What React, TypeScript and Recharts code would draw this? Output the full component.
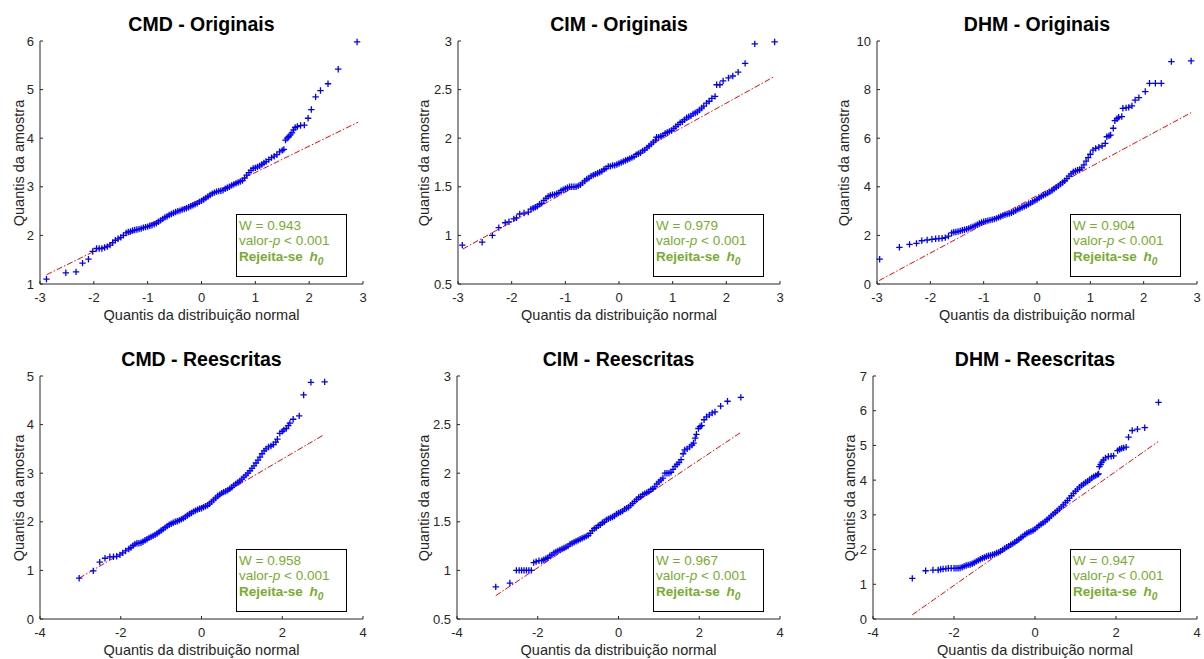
import React from 'react';
import { ScatterChart, Scatter, XAxis, YAxis } from 'recharts';

type Pt = [number, number];

const FONT = '"Liberation Sans", Arial, Helvetica, sans-serif';
const AXIS = '#262626';
const GREEN = '#77ac30';

// sample quantiles vs normal quantiles
const cmdOriginais: Pt[] = [
  [-2.88, 1.1], [-2.52, 1.23], [-2.33, 1.25], [-2.21, 1.43], [-2.1, 1.51], [-2.02, 1.67],
  [-1.95, 1.73], [-1.9, 1.73], [-1.85, 1.73], [-1.8, 1.75], [-1.75, 1.77], [-1.7, 1.8], [-1.65, 1.85],
  [-1.6, 1.9], [-1.55, 1.93], [-1.5, 1.96], [-1.45, 2.0],
  [-1.4, 2.05], [-1.36, 2.07], [-1.32, 2.08], [-1.28, 2.1], [-1.24, 2.11], [-1.2, 2.12], [-1.16, 2.13],
  [-1.12, 2.14], [-1.08, 2.16], [-1.04, 2.17], [-1.0, 2.18], [-0.96, 2.2], [-0.92, 2.21], [-0.88, 2.23],
  [-0.84, 2.25], [-0.8, 2.28], [-0.76, 2.31], [-0.72, 2.34], [-0.68, 2.37], [-0.64, 2.39], [-0.6, 2.42],
  [-0.56, 2.44], [-0.52, 2.46], [-0.48, 2.48], [-0.44, 2.5], [-0.4, 2.51], [-0.36, 2.53], [-0.32, 2.54],
  [-0.28, 2.56], [-0.24, 2.58], [-0.2, 2.6], [-0.16, 2.62], [-0.12, 2.64], [-0.08, 2.66], [-0.04, 2.69],
  [0.0, 2.71], [0.04, 2.74], [0.08, 2.77], [0.12, 2.8], [0.16, 2.83], [0.2, 2.86], [0.24, 2.88],
  [0.28, 2.9], [0.32, 2.91], [0.36, 2.92], [0.4, 2.93], [0.44, 2.96], [0.48, 2.98], [0.52, 3.0],
  [0.56, 3.03], [0.6, 3.05], [0.64, 3.07], [0.68, 3.09], [0.72, 3.11], [0.76, 3.13], [0.8, 3.18],
  [0.84, 3.24], [0.88, 3.29], [0.92, 3.34], [0.96, 3.38], [1.0, 3.39], [1.04, 3.41], [1.08, 3.43],
  [1.12, 3.46], [1.16, 3.49], [1.2, 3.52], [1.25, 3.56], [1.3, 3.6], [1.35, 3.63], [1.4, 3.66],
  [1.45, 3.72], [1.5, 3.75], [1.53, 3.77],
  [1.56, 3.96], [1.59, 4.0], [1.62, 4.03], [1.65, 4.07], [1.68, 4.11], [1.71, 4.17], [1.74, 4.22],
  [1.78, 4.24], [1.84, 4.26], [1.91, 4.27], [1.98, 4.41], [2.04, 4.59], [2.12, 4.85], [2.21, 4.98],
  [2.35, 5.12], [2.54, 5.42], [2.89, 5.98],
];

const cimOriginais: Pt[] = [
  [-2.92, 0.9], [-2.55, 0.93], [-2.36, 1.0], [-2.24, 1.08], [-2.12, 1.13], [-2.05, 1.14], [-1.96, 1.17],
  [-1.91, 1.18], [-1.85, 1.22], [-1.77, 1.23], [-1.69, 1.24], [-1.64, 1.27],
  [-1.6, 1.28], [-1.56, 1.29], [-1.52, 1.3], [-1.48, 1.32], [-1.44, 1.33], [-1.4, 1.36], [-1.36, 1.38],
  [-1.32, 1.4], [-1.28, 1.41], [-1.24, 1.42], [-1.2, 1.42], [-1.16, 1.43], [-1.12, 1.44], [-1.08, 1.46],
  [-1.04, 1.47], [-1.0, 1.48], [-0.96, 1.49], [-0.92, 1.5], [-0.88, 1.5], [-0.84, 1.5], [-0.8, 1.5],
  [-0.76, 1.51], [-0.72, 1.52], [-0.68, 1.54], [-0.64, 1.56], [-0.6, 1.58], [-0.56, 1.59], [-0.52, 1.61],
  [-0.48, 1.62], [-0.44, 1.63], [-0.4, 1.64], [-0.36, 1.65], [-0.32, 1.66], [-0.28, 1.68], [-0.24, 1.69],
  [-0.2, 1.71], [-0.16, 1.71], [-0.12, 1.72], [-0.08, 1.72], [-0.04, 1.73], [0.0, 1.74], [0.04, 1.75],
  [0.08, 1.76], [0.12, 1.77], [0.16, 1.78], [0.2, 1.79], [0.24, 1.8], [0.28, 1.81], [0.32, 1.83],
  [0.36, 1.84], [0.4, 1.85], [0.44, 1.87], [0.48, 1.88], [0.52, 1.9], [0.56, 1.92], [0.6, 1.94],
  [0.64, 1.96], [0.68, 1.98], [0.7, 2.01], [0.74, 2.01], [0.78, 2.02], [0.82, 2.03], [0.86, 2.05],
  [0.9, 2.06], [0.94, 2.07], [0.98, 2.08], [1.02, 2.1], [1.06, 2.12], [1.1, 2.14], [1.14, 2.16],
  [1.18, 2.17], [1.22, 2.19], [1.26, 2.21], [1.3, 2.22], [1.34, 2.23], [1.38, 2.25], [1.42, 2.26],
  [1.46, 2.27], [1.5, 2.29], [1.54, 2.31], [1.58, 2.33],
  [1.63, 2.36], [1.68, 2.38], [1.73, 2.41], [1.79, 2.43], [1.82, 2.55], [1.88, 2.55], [1.94, 2.59],
  [2.04, 2.62], [2.12, 2.64], [2.22, 2.68], [2.35, 2.77], [2.53, 2.97], [2.9, 2.99],
];

const dhmOriginais: Pt[] = [
  [-2.95, 1.02], [-2.58, 1.51], [-2.39, 1.63], [-2.26, 1.67], [-2.16, 1.78], [-2.06, 1.81], [-1.97, 1.84],
  [-1.9, 1.86], [-1.84, 1.87], [-1.78, 1.88], [-1.72, 1.91], [-1.66, 1.97],
  [-1.6, 2.1], [-1.56, 2.13], [-1.52, 2.14], [-1.48, 2.16], [-1.44, 2.18], [-1.4, 2.21], [-1.36, 2.23],
  [-1.32, 2.26], [-1.28, 2.29], [-1.24, 2.33], [-1.2, 2.36], [-1.16, 2.4], [-1.12, 2.44], [-1.08, 2.49],
  [-1.04, 2.53], [-1.0, 2.56], [-0.96, 2.58], [-0.92, 2.61], [-0.88, 2.63], [-0.84, 2.65], [-0.8, 2.67],
  [-0.76, 2.7], [-0.72, 2.74], [-0.68, 2.78], [-0.64, 2.82], [-0.6, 2.85], [-0.56, 2.88], [-0.52, 2.9],
  [-0.48, 2.93], [-0.44, 2.97], [-0.4, 3.02], [-0.36, 3.07], [-0.32, 3.11], [-0.28, 3.15], [-0.24, 3.19],
  [-0.2, 3.23], [-0.16, 3.28], [-0.12, 3.33], [-0.08, 3.38], [-0.04, 3.43], [0.0, 3.48], [0.04, 3.54],
  [0.08, 3.6], [0.12, 3.65], [0.16, 3.69], [0.2, 3.74], [0.24, 3.79], [0.28, 3.85], [0.32, 3.91],
  [0.36, 3.98], [0.4, 4.04], [0.44, 4.11], [0.48, 4.18], [0.52, 4.25], [0.56, 4.34], [0.6, 4.44],
  [0.64, 4.53], [0.68, 4.61], [0.72, 4.65], [0.76, 4.68], [0.8, 4.71], [0.84, 4.78], [0.88, 4.9],
  [0.92, 5.06], [0.96, 5.2], [1.0, 5.34],
  [1.05, 5.51], [1.1, 5.58], [1.16, 5.63], [1.22, 5.68], [1.28, 5.79], [1.31, 6.06], [1.35, 6.1],
  [1.38, 6.13], [1.43, 6.41], [1.46, 6.72], [1.5, 6.8], [1.53, 6.86], [1.59, 6.89], [1.61, 7.23],
  [1.67, 7.25], [1.72, 7.27], [1.78, 7.33], [1.84, 7.57], [1.91, 7.67], [2.03, 7.92], [2.11, 8.26],
  [2.22, 8.26], [2.33, 8.26], [2.52, 9.15], [2.89, 9.18],
];

const cmdReescritas: Pt[] = [
  [-3.03, 0.84], [-2.68, 0.99], [-2.52, 1.17], [-2.39, 1.25], [-2.27, 1.28], [-2.18, 1.28], [-2.1, 1.29],
  [-2.02, 1.32], [-1.95, 1.36], [-1.88, 1.4],
  [-1.8, 1.44], [-1.75, 1.47], [-1.7, 1.51], [-1.65, 1.54], [-1.6, 1.56], [-1.55, 1.56], [-1.5, 1.57],
  [-1.45, 1.59], [-1.4, 1.62], [-1.35, 1.64], [-1.3, 1.67], [-1.25, 1.69], [-1.2, 1.71], [-1.15, 1.73],
  [-1.1, 1.76], [-1.05, 1.79], [-1.0, 1.82], [-0.95, 1.85], [-0.9, 1.88], [-0.85, 1.91], [-0.8, 1.94],
  [-0.75, 1.96], [-0.7, 1.98], [-0.65, 2.0], [-0.6, 2.01], [-0.55, 2.03], [-0.5, 2.05], [-0.45, 2.07],
  [-0.4, 2.1], [-0.35, 2.13], [-0.3, 2.16], [-0.25, 2.18], [-0.2, 2.21], [-0.15, 2.23], [-0.1, 2.25],
  [-0.05, 2.27], [0.0, 2.28], [0.05, 2.3], [0.1, 2.32], [0.15, 2.34], [0.2, 2.37], [0.25, 2.41],
  [0.3, 2.45], [0.35, 2.49], [0.4, 2.53], [0.45, 2.56], [0.5, 2.59], [0.55, 2.61], [0.6, 2.63],
  [0.65, 2.65], [0.7, 2.68], [0.75, 2.71], [0.8, 2.75], [0.85, 2.78], [0.9, 2.81], [0.95, 2.84],
  [1.0, 2.88], [1.05, 2.92], [1.1, 2.96], [1.15, 3.0], [1.2, 3.05], [1.25, 3.1], [1.3, 3.15],
  [1.35, 3.21], [1.4, 3.27], [1.45, 3.33], [1.5, 3.4], [1.55, 3.46], [1.6, 3.5],
  [1.66, 3.54], [1.72, 3.56], [1.78, 3.59], [1.84, 3.64], [1.88, 3.7], [1.94, 3.82], [2.0, 3.86],
  [2.04, 3.89], [2.1, 3.92], [2.15, 3.98], [2.19, 4.03], [2.27, 4.11], [2.42, 4.18], [2.53, 4.61],
  [2.71, 4.87], [3.05, 4.88],
];

const cimReescritas: Pt[] = [
  [-3.04, 0.83], [-2.69, 0.87], [-2.53, 1.0], [-2.46, 1.0], [-2.4, 1.0], [-2.34, 1.0], [-2.28, 1.0],
  [-2.22, 1.0], [-2.16, 1.0], [-2.1, 1.08], [-2.04, 1.09], [-1.97, 1.1],
  [-1.9, 1.1], [-1.85, 1.11], [-1.8, 1.12], [-1.75, 1.13], [-1.7, 1.15], [-1.65, 1.16], [-1.6, 1.18],
  [-1.55, 1.19], [-1.5, 1.2], [-1.45, 1.21], [-1.4, 1.22], [-1.35, 1.23], [-1.3, 1.24], [-1.25, 1.25],
  [-1.2, 1.27], [-1.15, 1.28], [-1.1, 1.29], [-1.05, 1.3], [-1.0, 1.31], [-0.95, 1.32], [-0.9, 1.33],
  [-0.85, 1.34], [-0.8, 1.35], [-0.75, 1.36], [-0.7, 1.38], [-0.65, 1.41], [-0.6, 1.43], [-0.55, 1.44],
  [-0.5, 1.46], [-0.45, 1.47], [-0.4, 1.49], [-0.35, 1.5], [-0.3, 1.52], [-0.25, 1.53], [-0.2, 1.54],
  [-0.15, 1.55], [-0.1, 1.56], [-0.05, 1.58], [0.0, 1.59], [0.05, 1.6], [0.1, 1.61], [0.15, 1.63],
  [0.2, 1.64], [0.25, 1.65], [0.3, 1.67], [0.35, 1.69], [0.4, 1.71], [0.45, 1.73], [0.5, 1.75],
  [0.55, 1.76], [0.6, 1.78], [0.65, 1.79], [0.7, 1.8], [0.75, 1.81], [0.8, 1.83], [0.85, 1.84],
  [0.9, 1.86], [0.95, 1.89], [1.0, 1.91], [1.05, 1.93], [1.1, 1.95], [1.15, 2.0], [1.2, 2.0],
  [1.25, 2.0], [1.3, 2.01], [1.35, 2.04], [1.4, 2.07], [1.45, 2.09], [1.5, 2.11], [1.55, 2.14],
  [1.6, 2.2], [1.64, 2.24], [1.7, 2.25], [1.76, 2.27], [1.82, 2.29], [1.86, 2.31], [1.9, 2.36],
  [1.93, 2.4], [1.98, 2.46], [2.02, 2.48], [2.06, 2.49], [2.12, 2.55], [2.18, 2.58], [2.25, 2.6],
  [2.32, 2.62], [2.39, 2.63], [2.53, 2.69], [2.7, 2.74], [3.03, 2.78],
];

const dhmReescritas: Pt[] = [
  [-3.03, 1.17], [-2.7, 1.39], [-2.52, 1.41], [-2.39, 1.41], [-2.33, 1.43], [-2.27, 1.44], [-2.2, 1.45],
  [-2.14, 1.46], [-2.07, 1.46],
  [-2.0, 1.46], [-1.95, 1.46], [-1.9, 1.46], [-1.85, 1.47], [-1.8, 1.49], [-1.75, 1.52], [-1.7, 1.54],
  [-1.65, 1.56], [-1.6, 1.57], [-1.55, 1.59], [-1.5, 1.62], [-1.45, 1.66], [-1.4, 1.69], [-1.35, 1.72],
  [-1.3, 1.75], [-1.25, 1.77], [-1.2, 1.8], [-1.15, 1.82], [-1.1, 1.83], [-1.05, 1.85], [-1.0, 1.87],
  [-0.95, 1.9], [-0.9, 1.92], [-0.85, 1.95], [-0.8, 1.99], [-0.75, 2.03], [-0.7, 2.07], [-0.65, 2.1],
  [-0.6, 2.14], [-0.55, 2.17], [-0.5, 2.21], [-0.45, 2.25], [-0.4, 2.29], [-0.35, 2.34], [-0.3, 2.38],
  [-0.25, 2.43], [-0.2, 2.47], [-0.15, 2.5], [-0.1, 2.52], [-0.05, 2.55], [0.0, 2.59], [0.05, 2.64],
  [0.1, 2.69], [0.15, 2.73], [0.2, 2.77], [0.25, 2.81], [0.3, 2.86], [0.35, 2.91], [0.4, 2.97],
  [0.45, 3.02], [0.5, 3.07], [0.55, 3.12], [0.6, 3.17], [0.65, 3.23], [0.7, 3.29], [0.75, 3.35],
  [0.8, 3.41], [0.85, 3.48], [0.9, 3.55], [0.95, 3.62], [1.0, 3.68], [1.05, 3.74], [1.1, 3.8],
  [1.15, 3.85], [1.2, 3.89], [1.25, 3.93], [1.3, 3.97], [1.35, 4.01], [1.4, 4.06], [1.45, 4.1],
  [1.5, 4.13], [1.55, 4.16],
  [1.57, 4.18], [1.59, 4.39], [1.62, 4.45], [1.65, 4.52], [1.69, 4.58], [1.74, 4.64], [1.81, 4.68],
  [1.88, 4.69], [1.94, 4.7], [2.04, 4.85], [2.09, 4.89], [2.14, 4.92], [2.19, 4.93], [2.25, 4.95],
  [2.31, 5.24], [2.4, 5.43], [2.53, 5.47], [2.71, 5.51], [3.05, 6.24],
];

// reference lines (end points)
const cmdOriginaisLine: Pt[] = [[-2.88, 1.19], [2.91, 4.33]];
const cimOriginaisLine: Pt[] = [[-2.91, 0.86], [2.88, 2.63]];
const dhmOriginaisLine: Pt[] = [[-2.96, 0.14], [2.89, 7.05]];
const cmdReescritasLine: Pt[] = [[-3.03, 0.84], [3.03, 3.79]];
const cimReescritasLine: Pt[] = [[-3.04, 0.74], [3.03, 2.42]];
const dhmReescritasLine: Pt[] = [[-3.03, 0.12], [3.04, 5.11]];

const titles = ['CMD - Originais', 'CIM - Originais', 'DHM - Originais', 'CMD - Reescritas', 'CIM - Reescritas', 'DHM - Reescritas'];
const wValues = ['0.943', '0.979', '0.904', '0.958', '0.967', '0.947'];

const xTicksOrig = [-3, -2, -1, 0, 1, 2, 3];
const xTicksRees = [-4, -2, 0, 2, 4];
const yTicksCmdOrig = [1, 2, 3, 4, 5, 6];
const yTicksCimOrig = [0.5, 1, 1.5, 2, 2.5, 3];
const yTicksDhmOrig = [0, 2, 4, 6, 8, 10];
const yTicksCmdRees = [0, 1, 2, 3, 4, 5];
const yTicksCimRees = [0.5, 1, 1.5, 2, 2.5, 3];
const yTicksDhmRees = [0, 1, 2, 3, 4, 5, 6, 7];

const panels = [
  { title: titles[0], pts: cmdOriginais, ref: cmdOriginaisLine, w: wValues[0], xTicks: xTicksOrig, yTicks: yTicksCmdOrig, l: 40, t: 41, r: 363, b: 284, yLabelX: 19 },
  { title: titles[1], pts: cimOriginais, ref: cimOriginaisLine, w: wValues[1], xTicks: xTicksOrig, yTicks: yTicksCimOrig, l: 458, t: 41, r: 780, b: 284, yLabelX: 423.5 },
  { title: titles[2], pts: dhmOriginais, ref: dhmOriginaisLine, w: wValues[2], xTicks: xTicksOrig, yTicks: yTicksDhmOrig, l: 877, t: 41, r: 1197, b: 284, yLabelX: 843.5 },
  { title: titles[3], pts: cmdReescritas, ref: cmdReescritasLine, w: wValues[3], xTicks: xTicksRees, yTicks: yTicksCmdRees, l: 40, t: 376, r: 363, b: 619, yLabelX: 19 },
  { title: titles[4], pts: cimReescritas, ref: cimReescritasLine, w: wValues[4], xTicks: xTicksRees, yTicks: yTicksCimRees, l: 457, t: 376, r: 780, b: 619, yLabelX: 423.5 },
  { title: titles[5], pts: dhmReescritas, ref: dhmReescritasLine, w: wValues[5], xTicks: xTicksRees, yTicks: yTicksDhmRees, l: 873, t: 376, r: 1197, b: 619, yLabelX: 850 },
];

const Plus = (props: any) => {
  const { cx, cy } = props;
  if (cx == null || cy == null) return <g />;
  return (
    <path
      d={`M${cx - 3.2},${cy}H${cx + 3.2}M${cx},${cy - 3.2}V${cy + 3.2}`}
      stroke="#0000ff"
      strokeWidth={1.3}
      fill="none"
    />
  );
};

const NoDot = () => <g />;

const tickStyle = { fill: AXIS, fontSize: 13, fontFamily: FONT };

function QQPanel(p: (typeof panels)[number]) {
  const padL = 45;
  const padT = 10;
  const padR = 8;
  const padB = 25;
  const width = p.r - p.l + padL + padR;
  const height = p.b - p.t + padT + padB;
  const pts = p.pts.map(([x, y]) => ({ x, y }));
  const ref = p.ref.map(([x, y]) => ({ x, y }));
  const xDom = [p.xTicks[0], p.xTicks[p.xTicks.length - 1]];
  const yDom = [p.yTicks[0], p.yTicks[p.yTicks.length - 1]];

  return (
    <>
      <div style={{ position: 'absolute', left: p.l - padL, top: p.t - padT }}>
        <ScatterChart width={width} height={height} margin={{ top: padT, right: padR, left: 0, bottom: 0 }}>
          <XAxis
            type="number"
            dataKey="x"
            domain={xDom}
            ticks={p.xTicks}
            interval={0}
            height={padB}
            tickSize={-3}
            tickMargin={12}
            tick={tickStyle}
            axisLine={{ stroke: AXIS }}
            tickLine={{ stroke: AXIS }}
          />
          <YAxis
            type="number"
            dataKey="y"
            domain={yDom}
            ticks={p.yTicks}
            interval={0}
            width={padL}
            tickSize={-3}
            tickMargin={9}
            tick={tickStyle}
            axisLine={{ stroke: AXIS }}
            tickLine={{ stroke: AXIS }}
          />
          <Scatter
            data={ref}
            line={{ stroke: '#ff0000', strokeWidth: 1, strokeDasharray: '6 2 1.5 2' }}
            shape={NoDot}
            isAnimationActive={false}
          />
          <Scatter data={pts} shape={Plus} isAnimationActive={false} />
        </ScatterChart>
      </div>

      <div
        style={{
          position: 'absolute', left: p.l, width: p.r - p.l, top: p.t - 10 - 16.5,
          textAlign: 'center', fontSize: 19.5, lineHeight: '19.5px', fontWeight: 'bold', color: '#000', whiteSpace: 'nowrap',
        }}
      >
        {p.title}
      </div>

      <div
        style={{
          position: 'absolute', left: p.l, width: p.r - p.l, top: p.b + 23.7,
          textAlign: 'center', fontSize: 14.5, lineHeight: '14.5px', color: AXIS, whiteSpace: 'nowrap',
        }}
      >
        Quantis da distribuição normal
      </div>

      <div
        style={{
          position: 'absolute', left: p.yLabelX, top: (p.t + p.b) / 2,
          transform: 'translate(-50%, -50%) rotate(-90deg)',
          fontSize: 14.5, lineHeight: '14.5px', color: AXIS, whiteSpace: 'nowrap',
        }}
      >
        Quantis da amostra
      </div>

      <div
        style={{
          position: 'absolute', left: p.r - 16 - 111, top: p.b - 7 - 63, width: 111, height: 63,
          boxSizing: 'border-box', border: '1px solid #000', background: '#fff',
          padding: '2.5px 0 0 2px', color: GREEN, fontSize: 13.5, lineHeight: '15.5px', whiteSpace: 'nowrap',
        }}
      >
        <div>W = {p.w}</div>
        <div>
          valor-<i>p</i> &lt; 0.001
        </div>
        <div style={{ fontWeight: 'bold' }}>
          Rejeita-se{' '}
          <i style={{ marginLeft: 3 }}>h</i>
          <i style={{ fontSize: '0.75em', position: 'relative', top: 4 }}>0</i>
        </div>
      </div>
    </>
  );
}

export default function App() {
  return (
    <div
      style={{
        position: 'absolute', left: 0, top: 0, width: 1204, height: 659, overflow: 'hidden',
        background: '#fff', fontFamily: FONT,
      }}
    >
      {panels.map((p) => (
        <QQPanel key={p.title} {...p} />
      ))}
    </div>
  );
}
